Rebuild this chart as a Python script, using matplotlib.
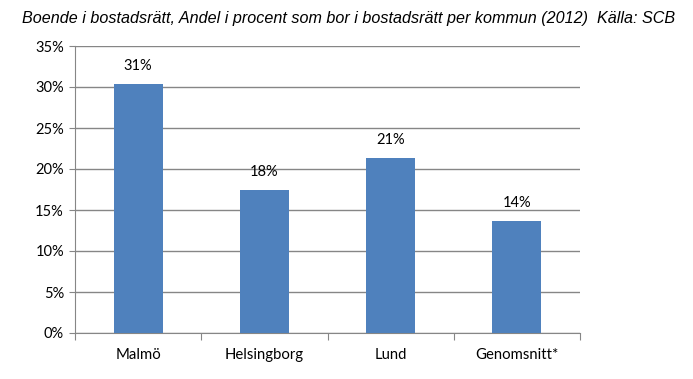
import matplotlib.pyplot as plt
import numpy as np

kommuner = ["Malmö", "Helsingborg", "Lund", "Genomsnitt*"]
andel = [30.4, 17.5, 21.4, 13.7]
etiketter = ["31%", "18%", "21%", "14%"]
yticks = [0, 5, 10, 15, 20, 25, 30, 35]

fig = plt.figure(figsize=(6.93, 3.79), dpi=100)
ax = fig.add_axes([75 / 693, 1 - 333 / 379, 505 / 693, 287 / 379])

x = np.arange(len(kommuner))
ax.bar(x, andel, width=0.39, color="#4F81BD", zorder=3)

grey = "#868686"
ax.set_ylim(0, 35)
ax.set_xlim(-0.5, len(kommuner) - 0.5)
ax.set_yticks(yticks)
ax.set_yticklabels([f"{t}%" for t in yticks], fontsize=10.5, family="Lato")
ax.yaxis.grid(True, color=grey, linewidth=1, zorder=0)

# kategorietiketter mellan tickmarkeringarna
ax.set_xticks(np.arange(len(kommuner) + 1) - 0.5)
ax.set_xticklabels([])
ax.set_xticks(x, minor=True)
ax.set_xticklabels(kommuner, minor=True, fontsize=10.7, family="Lato")
ax.tick_params(axis="x", which="minor", length=0, pad=11)
ax.tick_params(axis="x", which="major", length=5, color=grey)
ax.tick_params(axis="y", length=4, color=grey, pad=4)

for s in ["top", "right"]:
    ax.spines[s].set_visible(False)
for s in ["left", "bottom"]:
    ax.spines[s].set_color(grey)

for xi, v, lab in zip(x, andel, etiketter):
    ax.text(xi, v + 1.3, lab, ha="center", va="bottom", fontsize=10.5, family="Lato")

fig.text(22 / 693, 1 - 18 / 379, "Boende i bostadsrätt, Andel i procent som bor i bostadsrätt per kommun (2012)  Källa: SCB",
         fontsize=11.6, style="italic", family="Liberation Sans", va="center", ha="left")

fig.savefig("out.png", dpi=100)
